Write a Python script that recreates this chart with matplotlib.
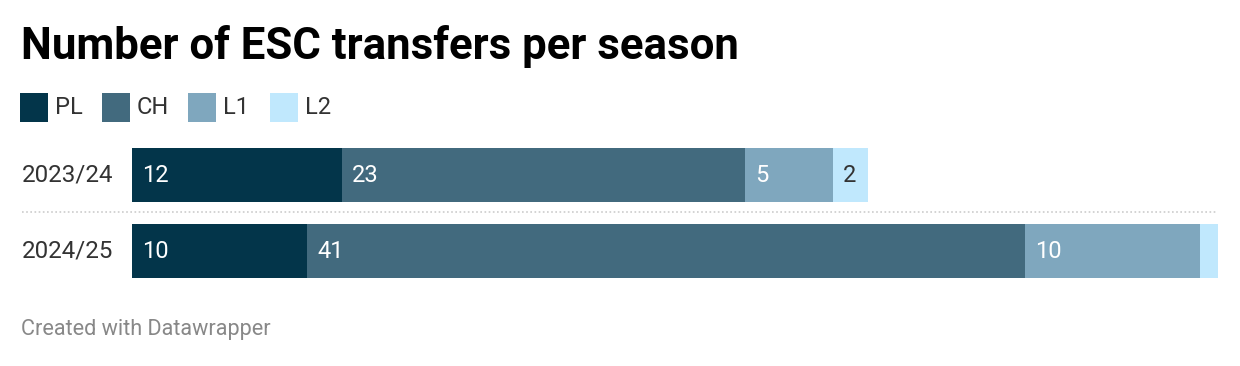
import matplotlib
matplotlib.use("Agg")
import matplotlib.pyplot as plt
from matplotlib.patches import Rectangle
from matplotlib.transforms import Affine2D

seasons = ["2023/24", "2024/25"]
leagues = ["PL", "CH", "L1", "L2"]
PL = [12, 10]
CH = [23, 41]
L1 = [5, 10]
L2 = [2, 1]
show_label = [[True, True, True, True], [True, True, True, False]]
colors = ["#03354a", "#426a7e", "#7fa7be", "#c0e8fd"]
text_colors = ["white", "white", "white", "#333333"]

W, H = 1240, 366
plt.rcParams['font.family'] = ['Roboto', 'DejaVu Sans']
fig = plt.figure(figsize=(W / 100, H / 100), dpi=100)

# pixel transform (origin top-left)
px = Affine2D().scale(1 / W, -1 / H).translate(0, 1) + fig.transFigure

fig.text(21, 46, "Number of ESC transfers per season", transform=px,
         fontsize=31.5, fontweight="bold", va="center", ha="left", color="#000000")

# legend
leg_sq = [20, 102, 188, 270]
for i, name in enumerate(leagues):
    fig.patches.append(Rectangle((leg_sq[i], 93), 28, 29, transform=px,
                                 facecolor=colors[i], edgecolor="none"))
    fig.text(leg_sq[i] + 35, 107, name, transform=px, fontsize=17,
             va="center", ha="left", color="#333333")

ax = fig.add_axes([132 / W, (H - 289) / H, 1086 / W, 152 / H])
ax.set_xlim(0, 62)
ax.set_ylim(1.5, -0.5)
ax.axis("off")

series = [PL, CH, L1, L2]
left = [0, 0]
for j, vals in enumerate(series):
    ax.barh(range(len(seasons)), vals, left=left, height=0.71,
            color=colors[j], edgecolor="none")
    for i, v in enumerate(vals):
        if show_label[i][j]:
            ax.annotate(str(v), (left[i], i), xytext=(10, 0),
                        textcoords="offset pixels", va="center", ha="left",
                        fontsize=17, color=text_colors[j])
    left = [l + v for l, v in zip(left, vals)]

for i, s in enumerate(seasons):
    ax.annotate(s, (0, i), xycoords=("figure pixels", "data"),
                xytext=(22, 0), textcoords="offset pixels",
                va="center", ha="left", fontsize=17.4, color="#333333",
                annotation_clip=False)

fig.add_artist(plt.Line2D([22, 1217], [212, 212], transform=px,
                          color="#cccccc", linestyle=(0, (1, 1.5)), linewidth=1.2))

fig.text(21, 330, "Created with Datawrapper", transform=px, fontsize=15.6,
         va="center", ha="left", color="#888888")

fig.savefig("out.png", dpi=100)
